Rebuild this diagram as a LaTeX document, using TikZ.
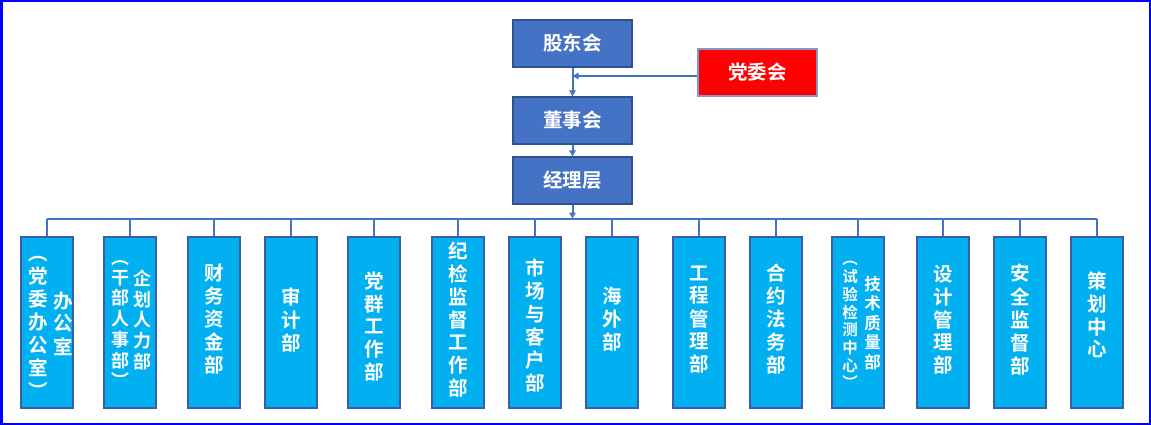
\documentclass[tikz,border=0pt]{standalone}
\usepackage{fontspec}
\setmainfont{Noto Sans CJK SC Bold}
\usetikzlibrary{arrows.meta,calc}
\definecolor{topfill}{HTML}{4472C4}
\definecolor{topborder}{HTML}{2F528F}
\definecolor{deptfill}{HTML}{00B0F0}
\definecolor{deptborder}{HTML}{3A5DA6}
\definecolor{redfill}{HTML}{FF0000}
\definecolor{redborder}{HTML}{8497C8}
\definecolor{linec}{HTML}{4472C4}
\definecolor{frame}{HTML}{0000FF}
\newcommand\vcol[1]{\begin{tabular}[c]{@{}c@{}}#1\end{tabular}}
\tikzset{
  topbox/.style={draw=topborder, fill=topfill, line width=1.2pt, minimum width=119pt, minimum height=47pt, inner sep=0pt, text=white, font=\fontsize{19.5}{21.5}\selectfont},
  redbox/.style={topbox, draw=redborder, fill=redfill},
  dept/.style={draw=deptborder, fill=deptfill, line width=1.2pt, minimum width=52pt, minimum height=171pt, inner sep=0pt},
  lbl/.style={inner sep=0pt, text=white, font=\fontsize{19.5}{21.5}\selectfont},
  lblm/.style={inner sep=0pt, text=white, font=\fontsize{18}{18.2}\selectfont},
  lbls/.style={inner sep=0pt, text=white, font=\fontsize{16.5}{18.5}\selectfont},
  lblxs/.style={inner sep=0pt, text=white, font=\fontsize{15.5}{15.6}\selectfont},
  link/.style={draw=linec, line width=2pt},
  arr/.style={link, -{Triangle[length=6pt,width=6.5pt]}},
}
\begin{document}
\begin{tikzpicture}[x=1pt,y=-1pt]
\useasboundingbox (0,0) rectangle (1151,425);
\draw[frame, line width=2.5pt] (1.25,1.25) rectangle (1149.75,423.75);

\node[topbox] (gd) at (572.5,43.5) {股东会};
\node[redbox] (dw) at (757.5,72.5) {党委会};
\node[topbox] (ds) at (572.5,120.5) {董事会};
\node[topbox] (jl) at (572.5,180.5) {经理层};

\draw[arr] (gd.south) -- (ds.north);
\draw[arr] ([yshift=-3.5pt]dw.west) -- ([yshift=-3.5pt]dw.west -| gd.south);
\draw[arr] (ds.south) -- (jl.north);
\coordinate (bus) at (572.5,218.5);
\draw[arr] (jl.south) -- (bus);

\foreach \i/\x in {1/47,2/130,3/214,4/291,5/374,6/458,7/535,8/612,9/699,10/776,11/858,12/943,13/1020,14/1097}{
  \node[dept] (b\i) at (\x,322.5) {};
}
\draw[link] (b1.north |- bus) -- (b14.north |- bus);
\foreach \i in {1,...,14}{
  \draw[link] (b\i.north |- bus) -- (b\i.north);
}

% box 1
\node[lbl] (t1a) at (38,325) {\vcol{︵\\党\\委\\办\\公\\室\\︶}};
\node[lbl] (t1b) at (63.5,326) {\vcol{办\\公\\室}};
% box 2
\node[lblm] (t2a) at (120,322.5) {\vcol{︵\\干\\部\\人\\事\\部\\︶}};
\node[lblm] (t2b) at (142.5,322) {\vcol{企\\划\\人\\力\\部}};
% singles
\node[lbl] (t3) at (214,321.5) {\vcol{财\\务\\资\\金\\部}};
\node[lbl] (t4) at (291,322.5) {\vcol{审\\计\\部}};
\node[lbl] (t5) at (374,329) {\vcol{党\\群\\工\\作\\部}};
\node[lbl] (t6) at (458,322) {\vcol{纪\\检\\监\\督\\工\\作\\部}};
\node[lbl] (t7) at (535,328) {\vcol{市\\场\\与\\客\\户\\部}};
\node[lbl] (t8) at (612,321.5) {\vcol{海\\外\\部}};
\node[lbl] (t9) at (699,321.5) {\vcol{工\\程\\管\\理\\部}};
\node[lbl] (t10) at (776,321.5) {\vcol{合\\约\\法\\务\\部}};
% box 11
\node[lblxs] (t11a) at (850,323.5) {\vcol{︵\\试\\验\\检\\测\\中\\心\\︶}};
\node[lbls] (t11b) at (872.5,325) {\vcol{技\\术\\质\\量\\部}};
\node[lbl] (t12) at (943,322) {\vcol{设\\计\\管\\理\\部}};
\node[lbl] (t13) at (1020,322) {\vcol{安\\全\\监\\督\\部}};
\node[lbl] (t14) at (1097,317.5) {\vcol{策\\划\\中\\心}};
\end{tikzpicture}
\end{document}
